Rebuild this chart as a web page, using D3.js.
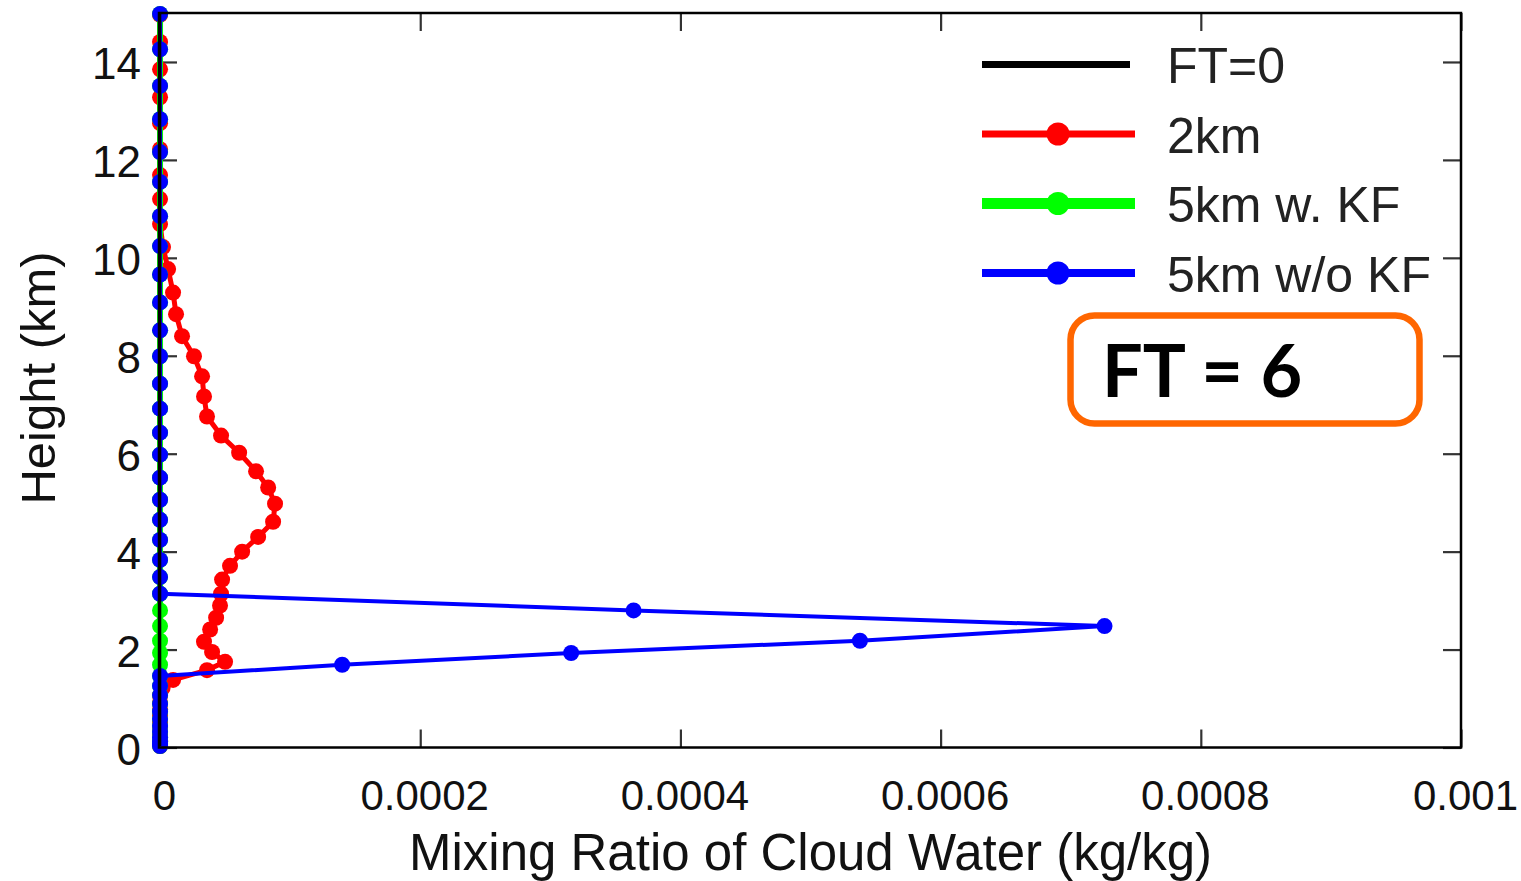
<!DOCTYPE html>
<html>
<head>
<meta charset="utf-8">
<script src="https://cdn.jsdelivr.net/npm/d3@7"></script>
<style>
  html, body { margin: 0; padding: 0; background: #fff; }
  svg { display: block; }
</style>
</head>
<body>
<script>
// Vertical model levels (km) of the 5 km runs
const levels5km = [14.98, 14.26, 13.51, 12.83, 12.16, 11.55, 10.85, 10.24, 9.66, 9.09,
  8.52, 7.99, 7.43, 6.92, 6.43, 5.98, 5.51, 5.06, 4.65, 4.24, 3.83, 3.48, 3.14,
  2.80, 2.48, 2.18, 1.93, 1.69, 1.46, 1.26, 1.07, 0.89, 0.73, 0.58, 0.44, 0.32,
  0.21, 0.13, 0.07, 0.03];

// Cloud water mixing ratio (kg/kg) at FT=0 on the 5 km levels
const qcFT0 = levels5km.map(() => 0);

// 5 km with Kain-Fritsch scheme
const qc5kmKF = levels5km.map(() => 0);

// 5 km without Kain-Fritsch scheme
const qc5kmNoKF = [0, 0, 0, 0, 0, 0, 0, 0, 0, 0,
  0, 0, 0, 0, 0, 0, 0, 0, 0, 0, 0, 0, 0,
  3.64e-4, 7.26e-4, 5.38e-4, 3.16e-4, 1.40e-4, 0, 0, 0, 0, 0, 0, 0, 0,
  0, 0, 0, 0];

// Vertical model levels (km) of the 2 km run
const levels2km = [14.96, 14.41, 13.85, 13.28, 12.75, 12.22, 11.69, 11.20, 10.69, 10.22,
  9.77, 9.29, 8.85, 8.40, 7.99, 7.58, 7.17, 6.76, 6.37, 6.02, 5.64, 5.31, 4.98,
  4.61, 4.30, 4.00, 3.71, 3.43, 3.14, 2.90, 2.65, 2.41, 2.16, 1.95, 1.75, 1.58,
  1.38, 1.22, 1.06, 0.92, 0.78, 0.65, 0.52, 0.41, 0.30, 0.22, 0.15, 0.09, 0.03];

// 2 km run
const qc2km = [0, 0, 0, 0, 0, 0, 0, 0, 0, 2.3e-6,
  6.2e-6, 1.0e-5, 1.23e-5, 1.69e-5, 2.61e-5, 3.23e-5, 3.38e-5, 3.61e-5, 4.69e-5, 6.08e-5, 7.38e-5, 8.31e-5, 8.84e-5,
  8.69e-5, 7.54e-5, 6.31e-5, 5.38e-5, 4.77e-5, 4.69e-5, 4.61e-5, 4.31e-5, 3.85e-5, 3.38e-5, 4.0e-5, 5.0e-5, 3.61e-5,
  1.0e-5, 2e-6, 0, 0, 0, 0, 0, 0, 0, 0, 0, 0, 0];

// Axis ticks
const xTicks = [0, 0.0002, 0.0004, 0.0006, 0.0008, 0.001];
const xTickLabels = ["0", "0.0002", "0.0004", "0.0006", "0.0008", "0.001"];
const yTicks = [0, 2, 4, 6, 8, 10, 12, 14];

// Legend entries
const legendNames = ["FT=0", "2km", "5km w. KF", "5km w/o KF"];
const seriesColors = ["#000000", "#ff0000", "#00ff00", "#0000ff"];

const annotation = "FT = 6";
const xTitle = "Mixing Ratio of Cloud Water (kg/kg)";
const yTitle = "Height (km)";

// ---------------------------------------------------------------
const W = 1521, H = 881;
const plot = { left: 159, right: 1461, top: 13, bottom: 747.5 };

const svg = d3.select("body").append("svg")
  .attr("width", W).attr("height", H);

svg.append("rect").attr("width", W).attr("height", H).attr("fill", "#fff");

const x = d3.scaleLinear().domain([-0.8e-6, 0.001]).range([plot.left, plot.right]);
const y = d3.scaleLinear().domain([0, 15]).range([plot.bottom, plot.top]);

const axisFont = "'Liberation Sans', Arial, Helvetica, sans-serif";
const tickLen = 18;

// Inward ticks on all four sides
const axG = svg.append("g");
const bottomAxis = d3.axisBottom(x).tickValues(xTicks).tickSizeInner(-tickLen).tickSizeOuter(0).tickFormat("");
const topAxis = d3.axisTop(x).tickValues(xTicks).tickSizeInner(-tickLen).tickSizeOuter(0).tickFormat("");
const leftAxis = d3.axisLeft(y).tickValues(yTicks).tickSizeInner(-tickLen).tickSizeOuter(0).tickFormat("");
const rightAxis = d3.axisRight(y).tickValues(yTicks).tickSizeInner(-tickLen).tickSizeOuter(0).tickFormat("");

[[bottomAxis, `translate(0,${plot.bottom})`], [topAxis, `translate(0,${plot.top})`],
 [leftAxis, `translate(${plot.left},0)`], [rightAxis, `translate(${plot.right},0)`]]
  .forEach(([ax, tr]) => {
    const g = axG.append("g").attr("transform", tr).call(ax);
    g.select(".domain").remove();
    g.selectAll(".tick line").attr("stroke", "#333").attr("stroke-width", 2.2);
  });

// Tick labels
svg.append("g").selectAll("text").data(xTicks).join("text")
  .attr("x", d => x(d) + 4.5)
  .attr("y", 810)
  .attr("text-anchor", "middle")
  .attr("font-family", axisFont).attr("font-size", 42).attr("fill", "#111")
  .text((d, i) => xTickLabels[i]);

svg.append("g").selectAll("text").data(yTicks).join("text")
  .attr("x", 141)
  .attr("y", d => y(d) + 17)
  .attr("text-anchor", "end")
  .attr("font-family", axisFont).attr("font-size", 44).attr("fill", "#111")
  .text(d => d);

// Axis titles
svg.append("text")
  .attr("x", 409).attr("y", 870)
  .attr("font-family", axisFont).attr("font-size", 51).attr("fill", "#111")
  .text(xTitle);

svg.append("text")
  .attr("transform", "translate(55,378) rotate(-90)")
  .attr("text-anchor", "middle")
  .attr("font-family", axisFont).attr("font-size", 49).attr("fill", "#111")
  .text(yTitle);

// Profiles
const line = d3.line().x(d => x(d[0])).y(d => y(d[1]));
const dataG = svg.append("g");

function profile(values, levels, color, lw, r) {
  const pts = values.map((v, i) => [v, levels[i]]);
  dataG.append("path").datum(pts)
    .attr("d", line).attr("fill", "none")
    .attr("stroke", color).attr("stroke-width", lw).attr("stroke-linejoin", "round");
  if (r > 0) {
    dataG.append("g").selectAll("circle").data(pts).join("circle")
      .attr("cx", d => x(d[0])).attr("cy", d => y(d[1])).attr("r", r)
      .attr("fill", color);
  }
}

profile(qc2km, levels2km, seriesColors[1], 5, 8);
profile(qc5kmKF, levels5km, seriesColors[2], 6, 8);
profile(qc5kmNoKF, levels5km, seriesColors[3], 4, 8);
profile(qcFT0, levels5km, seriesColors[0], 2.5, 0);

// Frame
svg.append("rect")
  .attr("x", plot.left).attr("y", plot.top)
  .attr("width", plot.right - plot.left).attr("height", plot.bottom - plot.top)
  .attr("fill", "none").attr("stroke", "#000").attr("stroke-width", 2.5);

// Legend
const legend = svg.append("g");
const legY = [64.5, 134, 203.5, 273];
const legLW = [7, 7, 11, 8];
legendNames.forEach((name, i) => {
  const g = legend.append("g");
  g.append("line")
    .attr("x1", 982).attr("x2", i === 0 ? 1130 : 1135)
    .attr("y1", legY[i]).attr("y2", legY[i])
    .attr("stroke", seriesColors[i]).attr("stroke-width", legLW[i]);
  if (i > 0) {
    g.append("circle").attr("cx", 1058).attr("cy", legY[i]).attr("r", 11.5)
      .attr("fill", seriesColors[i]);
  }
  g.append("text")
    .attr("x", 1167).attr("y", legY[i] + 18.5)
    .attr("font-family", axisFont).attr("font-size", 50).attr("fill", "#222")
    .text(name);
});

// Forecast-time annotation
svg.append("rect")
  .attr("x", 1070.5).attr("y", 315.5).attr("width", 349).attr("height", 108)
  .attr("rx", 24).attr("ry", 24)
  .attr("fill", "none").attr("stroke", "#ff6600").attr("stroke-width", 6.5);

svg.append("text")
  .attr("x", 1102).attr("y", 397)
  .attr("font-family", "Lato, 'Open Sans', sans-serif").attr("font-weight", 700)
  .attr("font-size", 72).attr("fill", "#000")
  .text(annotation);
</script>
</body>
</html>
